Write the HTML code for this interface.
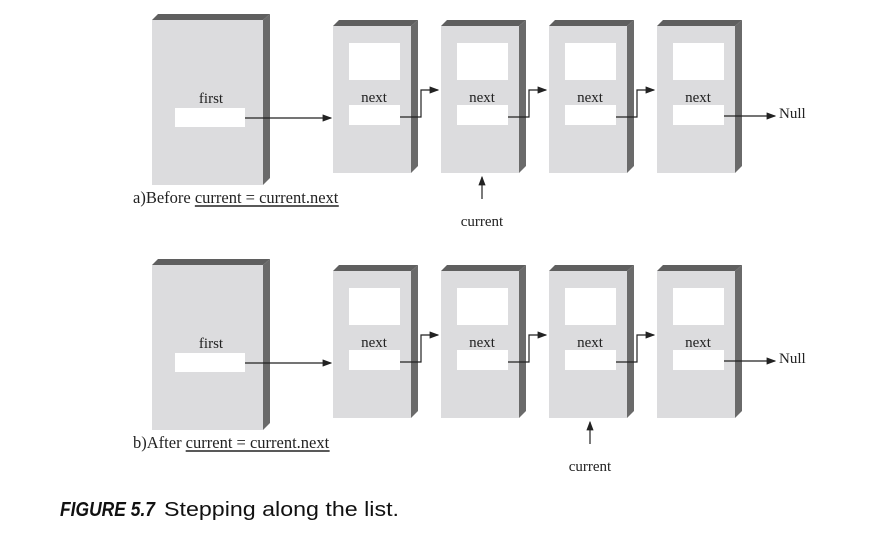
<!DOCTYPE html>
<html><head><meta charset="utf-8"><style>
html,body{margin:0;padding:0;background:#fff;width:884px;height:535px;overflow:hidden}
svg{display:block}
text{font-family:"Liberation Serif",serif;fill:#222}
</style></head><body>
<svg id="d" width="884" height="535" viewBox="0 0 884 535">
<defs><marker id="ah" markerWidth="8" markerHeight="6" refX="7" refY="3" orient="auto"><path d="M0,0 L8,3 L0,6 z" fill="#222"/></marker></defs>
<text x="60" y="516" textLength="95" lengthAdjust="spacingAndGlyphs" style="font-family:'Liberation Sans',sans-serif;font-size:20px;font-weight:bold;font-style:italic;fill:#111">FIGURE 5.7</text>
<text x="164" y="516" textLength="235" lengthAdjust="spacingAndGlyphs" style="font-family:'Liberation Sans',sans-serif;font-size:20px;fill:#111">Stepping along the list.</text>
</svg>
<script>
const NS='http://www.w3.org/2000/svg';
const svg=document.getElementById('d');
const nodeX=[333,441,549,657];
const rows=[{dy:0,cur:1,cap:'a)Before ',capX:133,capY:203},{dy:245,cur:2,cap:'b)After ',capX:133,capY:448}];
function mk(tag,attrs,parent){const e=document.createElementNS(NS,tag);for(const k in attrs)e.setAttribute(k,attrs[k]);(parent||svg).appendChild(e);return e;}
function box(g,x,y,w,h){
  mk('polygon',{points:`${x},${y} ${x+6},${y-6} ${x+w+7},${y-6} ${x+w},${y}`,fill:'#5f5f5f'},g);
  mk('polygon',{points:`${x+w},${y} ${x+w+7},${y-6} ${x+w+7},${y+h-7} ${x+w},${y+h}`,fill:'#6a6a6a'},g);
  mk('rect',{x:x,y:y,width:w,height:h,fill:'#dcdcde'},g);
}
rows.forEach((r,ri)=>{
  const dy=r.dy;
  const g=mk('g',{});
  
  
  const f=mk('g',{},g);
  
  
  box(f,152,20+dy,111,165);
  mk('rect',{x:175,y:108+dy,width:70,height:19,fill:'#fff'},f);
  const ft=mk('text',{x:211,y:103+dy,'font-size':15,'text-anchor':'middle'},f);ft.textContent='first';
  mk('line',{x1:245,y1:118+dy,x2:331,y2:118+dy,stroke:'#222','stroke-width':1.2,'marker-end':'url(#ah)'},f);
  nodeX.forEach((x,i)=>{
    const n=mk('g',{},g);
    
    
    box(n,x,26+dy,78,147);
    mk('rect',{x:x+16,y:43+dy,width:51,height:37,fill:'#fff'},n);
    mk('rect',{x:x+16,y:105+dy,width:51,height:20,fill:'#fff'},n);
    const t=mk('text',{x:x+41,y:102+dy,'font-size':15,'text-anchor':'middle'},n);t.textContent='next';
    if(i<3){
      mk('polyline',{points:`${x+67},${117+dy} ${x+88},${117+dy} ${x+88},${90+dy} ${x+105},${90+dy}`,fill:'none',stroke:'#222','stroke-width':1.2,'marker-end':'url(#ah)'},n);
    } else {
      mk('line',{x1:x+67,y1:116+dy,x2:x+118,y2:116+dy,stroke:'#222','stroke-width':1.2,'marker-end':'url(#ah)'},n);
      const nl=mk('text',{x:x+122,y:118+dy,'font-size':15},n);nl.textContent='Null';
      
      
    }
  });
  const cx=nodeX[r.cur]+41;
  const cg=mk('g',{},g);
  
  
  mk('line',{x1:cx,y1:199+dy,x2:cx,y2:177+dy,stroke:'#222','stroke-width':1.2,'marker-end':'url(#ah)'},cg);
  const ct=mk('text',{x:cx,y:226+dy,'font-size':15,'text-anchor':'middle'},cg);ct.textContent='current';
  const cap=mk('text',{x:r.capX,y:r.capY,'font-size':16.5},g);
  
  
  cap.textContent=r.cap+'current = current.next';
  const bb=cap.getBBox();
  const ux=bb.x+cap.getSubStringLength(0,r.cap.length);
  mk('line',{x1:ux,y1:r.capY+3,x2:bb.x+bb.width,y2:r.capY+3,stroke:'#222','stroke-width':1.4},g);
});
</script>
</body></html>
